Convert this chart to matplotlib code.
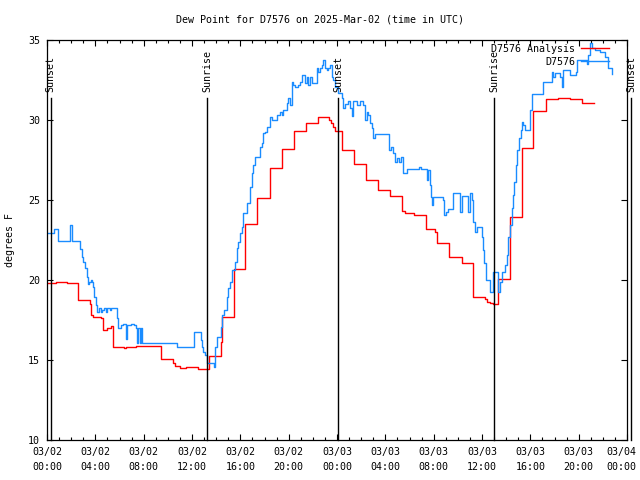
import matplotlib
matplotlib.use('Agg')
import matplotlib.pyplot as plt
import matplotlib.dates as mdates
import matplotlib.transforms as mtransforms
import numpy as np
import pandas as pd

plt.rcParams['font.family'] = ['DejaVu Sans Mono']
plt.rcParams['font.size'] = 7.2

start = pd.Timestamp('2025-03-02 00:00')

# observed dew point (D7576), hours since 03/02 00:00 UTC
obs_hours = [0.0, 0.58, 0.91, 1.88, 2.04, 2.73, 2.87, 3.01, 3.12, 3.34,
             3.42, 3.50, 3.61, 3.75, 3.83, 3.89, 4.08, 4.17, 4.30, 4.44,
             4.58, 4.72, 4.86, 4.99, 5.21, 5.27, 5.82, 5.88, 6.10, 6.29,
             6.51, 6.57, 6.65, 6.92, 7.20, 7.37, 7.48, 7.56, 7.67, 7.75,
             7.83, 10.73, 12.17, 12.75, 12.86, 12.94, 13.08, 13.21, 13.85, 13.90,
             14.04, 14.40, 14.51, 14.68, 14.87, 15.01, 15.15, 15.28, 15.56, 15.70,
             15.83, 15.97, 16.11, 16.25, 16.52, 16.80, 16.94, 17.08, 17.21, 17.63,
             17.77, 17.90, 18.04, 18.18, 18.46, 18.59, 19.01, 19.28, 19.42, 19.56,
             19.83, 19.97, 20.11, 20.25, 20.39, 20.52, 20.80, 20.94, 21.08, 21.35,
             21.49, 21.63, 21.77, 21.90, 22.32, 22.46, 22.59, 22.73, 22.87, 23.01,
             23.15, 23.28, 23.42, 23.56, 23.70, 23.84, 24.11, 24.39, 24.52, 24.66,
             24.94, 25.08, 25.21, 25.30, 25.63, 25.90, 26.18, 26.32, 26.46, 26.59,
             26.73, 26.87, 27.01, 27.15, 28.33, 28.44, 28.61, 28.80, 28.94, 29.16,
             29.27, 29.43, 29.77, 30.81, 30.92, 31.42, 31.56, 31.70, 31.78, 31.83,
             31.97, 32.75, 32.86, 33.02, 33.22, 33.63, 34.18, 34.32, 34.87, 35.01,
             35.15, 35.28, 35.42, 35.56, 35.97, 36.11, 36.19, 36.33, 36.66, 36.94,
             37.35, 37.49, 37.63, 37.90, 38.04, 38.18, 38.32, 38.46, 38.54, 38.65,
             38.82, 38.93, 39.09, 39.20, 39.31, 39.42, 39.56, 39.97, 40.11, 41.08,
             41.77, 41.90, 42.04, 42.46, 42.59, 42.68, 43.28, 43.78, 43.89, 44.66,
             44.80, 44.94, 45.08, 45.35, 45.77, 46.18, 46.46, 46.73]
obs_vals = [22.92, 23.17, 22.44, 23.44, 22.44, 21.92, 21.46, 21.15, 20.73, 20.21,
            19.75, 19.9, 19.98, 19.9, 19.58, 18.96, 18.44, 18.02, 18.27, 18.02,
            18.13, 18.23, 18.02, 18.27, 18.13, 18.27, 17.6, 16.98, 17.19, 17.25,
            16.77, 16.31, 17.19, 17.25, 17.19, 16.98, 16.04, 16.98, 16.04, 16.98,
            16.04, 15.79, 16.73, 16.25, 15.83, 15.52, 15.31, 14.79, 14.58, 15.83,
            16.46, 17.08, 17.81, 18.13, 18.96, 19.48, 19.9, 20.63, 21.15, 21.98,
            22.4, 22.92, 23.33, 24.17, 24.79, 25.83, 26.67, 27.19, 27.71, 28.33,
            28.54, 29.17, 29.27, 29.58, 30.21, 30.0, 30.31, 30.52, 30.31, 30.63,
            31.04, 31.35, 30.94, 32.4, 32.19, 32.08, 32.19, 32.4, 32.81, 32.29,
            32.71, 32.19, 32.71, 32.29, 33.23, 33.02, 33.23, 33.44, 33.75, 33.23,
            33.13, 33.23, 33.44, 32.71, 32.5, 32.08, 31.67, 31.35, 30.73, 31.0,
            31.21, 30.73, 30.25, 31.21, 30.94, 31.21, 30.94, 30.0, 30.52, 30.31,
            29.79, 29.48, 28.85, 29.13, 28.13, 28.33, 27.92, 27.4, 27.6, 27.4,
            27.71, 26.67, 26.92, 27.04, 26.92, 26.25, 26.88, 25.94, 25.21, 24.69,
            25.21, 25.0, 24.06, 24.27, 24.42, 25.46, 24.27, 25.25, 24.27, 25.46,
            25.0, 23.65, 23.02, 23.33, 22.67, 21.88, 21.04, 20.0, 19.27, 20.48,
            19.27, 19.9, 20.48, 20.94, 21.56, 22.71, 23.44, 24.48, 25.31, 26.15,
            27.19, 28.13, 28.85, 29.38, 29.86, 29.69, 29.38, 30.63, 31.6, 32.35,
            33.02, 32.71, 32.92, 32.71, 32.08, 33.13, 32.81, 33.02, 33.75, 33.48,
            34.06, 34.79, 34.52, 34.38, 34.27, 33.96, 33.23, 32.85]

# analysis dew point
ana_hours = [0.0, 0.72, 1.63, 2.59, 3.53, 3.66, 3.83, 4.44, 4.60, 4.66,
             4.99, 5.27, 5.46, 6.38, 6.51, 7.36, 9.46, 10.45, 10.60, 11.0,
             11.48, 12.52, 13.43, 14.43, 14.45, 15.45, 16.41, 17.42, 18.46, 19.42,
             20.44, 21.41, 22.40, 23.37, 23.5, 23.65, 23.84, 24.40, 25.38, 26.38,
             27.39, 28.39, 29.38, 29.6, 30.37, 31.37, 32.10, 32.30, 33.27, 34.32,
             35.28, 36.25, 36.44, 36.66, 36.94, 37.30, 37.35, 38.32, 39.28, 40.25,
             41.30, 42.32, 43.28, 44.30, 45.27]
ana_vals = [19.8, 19.85, 19.8, 18.75, 18.5, 17.8, 17.7, 17.6, 17.3, 16.9,
            17.0, 17.1, 15.8, 15.73, 15.8, 15.9, 15.04, 14.83, 14.65, 14.48,
            14.56, 14.42, 15.25, 16.15, 17.67, 20.67, 23.5, 25.15, 27.02, 28.19,
            29.33, 29.79, 30.17, 30.0, 29.8, 29.55, 29.31, 28.1, 27.23, 26.27,
            25.62, 25.23, 24.33, 24.2, 24.06, 23.19, 23.02, 22.33, 21.42, 21.08,
            18.96, 18.81, 18.65, 18.54, 18.48, 19.23, 20.06, 23.92, 28.23, 30.58,
            31.29, 31.35, 31.33, 31.04, 31.04]

sun_hours = [0.29, 13.27, 24.1, 37.02, 48.33]
sun_labels = ['Sunset', 'Sunrise', 'Sunset', 'Sunrise', 'Sunset']

tick_hours = list(range(0, 49, 4))
tick_labels = ['03/02\n00:00', '03/02\n04:00', '03/02\n08:00', '03/02\n12:00',
               '03/02\n16:00', '03/02\n20:00', '03/03\n00:00', '03/03\n04:00',
               '03/03\n08:00', '03/03\n12:00', '03/03\n16:00', '03/03\n20:00',
               '03/04\n00:00']
y_ticks = [10, 15, 20, 25, 30, 35]


def to_time(h):
    return start + pd.to_timedelta(np.asarray(h, dtype=float), unit='h')


fig = plt.figure(figsize=(6.4, 4.8), dpi=100)
ax = fig.add_axes([47/640, 40/480, 580/640, 400/480])

l_ana, = ax.plot(to_time(ana_hours), ana_vals, color='#ff0000', lw=1.0,
                 drawstyle='steps-post')
l_obs, = ax.plot(to_time(obs_hours), obs_vals, color='#1a8cff', lw=1.0,
                 drawstyle='steps-post')

ax.set_xlim(to_time(0), to_time(48))
ax.set_ylim(10, 35)

ax.tick_params(which='both', direction='in', top=True, right=True, width=0.8, pad=5)
ax.tick_params(which='major', length=4)
ax.tick_params(which='minor', length=2.2)

ax.set_xticks(to_time(tick_hours), labels=tick_labels, linespacing=1.6)
ax.xaxis.set_minor_locator(mdates.HourLocator())
ax.set_yticks(y_ticks, labels=[str(v) for v in y_ticks])
# last label would run off the image, pull it in a bit
last = ax.get_xticklabels()[-1]
last.set_horizontalalignment('right')
last.set_transform(last.get_transform() +
                   mtransforms.ScaledTranslation(9/100, 0, fig.dpi_scale_trans))

for s in ax.spines.values():
    s.set_linewidth(0.9)

# sunrise / sunset markers
trans = mtransforms.blended_transform_factory(ax.transData, ax.transAxes)
for h, lab in zip(sun_hours, sun_labels):
    t = to_time(h)
    ax.plot([t, t], [0, 0.855], color='black', lw=1.0, transform=trans, clip_on=False)
    ax.text(t, 0.87, lab, rotation=90, ha='center', va='bottom',
            transform=trans, clip_on=False)

ax.legend([l_ana, l_obs], ['D7576 Analysis', 'D7576'], loc='upper right',
          bbox_to_anchor=(0.969, 0.99), markerfirst=False, frameon=False,
          handlelength=2.8, handletextpad=0.6, labelspacing=0.3,
          borderpad=0, borderaxespad=0)

fig.text(0.5, 1 - 19/480, 'Dew Point for D7576 on 2025-Mar-02 (time in UTC)',
         ha='center', va='center')
fig.text(10/640, 0.5, 'degrees F', rotation=90, ha='center', va='center')

fig.savefig('out.png', dpi=100)
